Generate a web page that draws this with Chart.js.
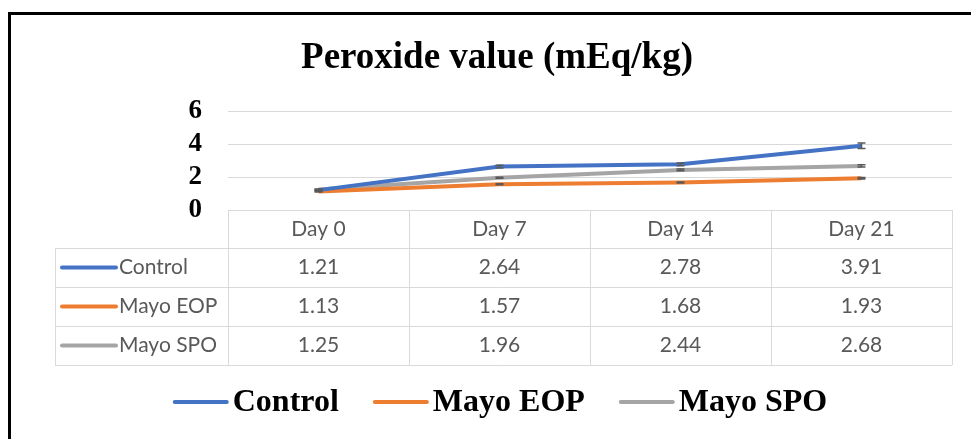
<!DOCTYPE html>
<html>
<head>
<meta charset="utf-8">
<script src="https://cdn.jsdelivr.net/npm/chart.js@4.4.0/dist/chart.umd.min.js"></script>
<style>
  html, body { margin: 0; padding: 0; background: #fff; }
  #frame { position: absolute; left: 8px; top: 12px; width: 980px; height: 440px;
           border-left: 3px solid #000; border-top: 3px solid #000; }
  #wrap { position: absolute; left: 0; top: 0; width: 971px; height: 439px; }
</style>
</head>
<body>
<div id="frame"></div>
<div id="wrap"><canvas id="chart" width="971" height="439"></canvas></div>
<script>
// values
const days = ['Day 0', 'Day 7', 'Day 14', 'Day 21'];
const seriesNames = ['Control', 'Mayo EOP', 'Mayo SPO'];
const control = [1.21, 2.64, 2.78, 3.91];
const mayoEOP = [1.13, 1.57, 1.68, 1.93];
const mayoSPO = [1.25, 1.96, 2.44, 2.68];
const controlErr = [0.04, 0.08, 0.08, 0.16];
const mayoEOPErr = [0.03, 0.03, 0.03, 0.05];
const mayoSPOErr = [0.03, 0.03, 0.05, 0.07];
const yTicks = [0, 2, 4, 6];

const colors = ['#4472C4', '#ED7D31', '#A5A5A5'];
const serif = "'Liberation Serif', 'Times New Roman', serif";
const sans = "Lato, 'Noto Sans', sans-serif";

// small error caps at each point
const errorBars = {
  id: 'errorBars',
  afterDatasetsDraw(chart) {
    const { ctx, scales: { x, y } } = chart;
    ctx.save();
    ctx.strokeStyle = '#595959';
    ctx.lineWidth = 1.5;
    chart.data.datasets.forEach(ds => {
      ds.data.forEach((v, i) => {
        const e = ds.errors[i];
        const px = x.getPixelForValue(i);
        const top = y.getPixelForValue(v + e), bot = y.getPixelForValue(v - e);
        ctx.beginPath();
        ctx.moveTo(px, top); ctx.lineTo(px, bot);
        ctx.moveTo(px - 4, top); ctx.lineTo(px + 4, top);
        ctx.moveTo(px - 4, bot); ctx.lineTo(px + 4, bot);
        ctx.stroke();
      });
    });
    ctx.restore();
  }
};

// data table under the plot, plus legend at the bottom
const dataTable = {
  id: 'dataTable',
  afterDraw(chart) {
    const { ctx, chartArea: area, scales: { x } } = chart;
    const n = days.length;
    const colW = (area.right - area.left) / n;
    const labelLeft = 55;
    const headH = 38, rowH = 39;
    const top = area.bottom;
    const rowsTop = top + headH;
    const bottom = rowsTop + rowH * chart.data.datasets.length;

    ctx.save();
    ctx.strokeStyle = '#d9d9d9';
    ctx.lineWidth = 1;
    ctx.beginPath();
    ctx.moveTo(area.left, top + 0.5); ctx.lineTo(area.right, top + 0.5);
    for (let r = 0; r <= chart.data.datasets.length; r++) {
      const yy = Math.round(rowsTop + r * rowH) + 0.5;
      ctx.moveTo(labelLeft, yy); ctx.lineTo(area.right, yy);
    }
    ctx.moveTo(labelLeft + 0.5, rowsTop); ctx.lineTo(labelLeft + 0.5, bottom);
    for (let c = 0; c <= n; c++) {
      const xx = Math.round(area.left + c * colW) + 0.5;
      ctx.moveTo(xx, top); ctx.lineTo(xx, bottom);
    }
    ctx.stroke();

    ctx.fillStyle = '#595959';
    ctx.font = '21px ' + sans;
    ctx.textBaseline = 'middle';
    ctx.textAlign = 'center';
    days.forEach((d, i) => ctx.fillText(d, x.getPixelForValue(i), top + headH / 2));
    chart.data.datasets.forEach((ds, r) => {
      const cy = rowsTop + r * rowH + rowH / 2;
      ds.data.forEach((v, i) => ctx.fillText(v.toFixed(2), x.getPixelForValue(i), cy));
      ctx.strokeStyle = ds.borderColor;
      ctx.lineWidth = 4;
      ctx.lineCap = 'round';
      ctx.beginPath();
      ctx.moveTo(labelLeft + 7, cy); ctx.lineTo(labelLeft + 61, cy);
      ctx.stroke();
      ctx.textAlign = 'left';
      ctx.fillText(ds.label, labelLeft + 64, cy);
      ctx.textAlign = 'center';
    });

    // legend
    ctx.font = 'bold 32px ' + serif;
    ctx.textAlign = 'left';
    ctx.fillStyle = '#000';
    const lineW = 56, gapText = 4, gapItem = 34;
    const widths = chart.data.datasets.map(ds => lineW + gapText + ctx.measureText(ds.label).width);
    const total = widths.reduce((a, b) => a + b, 0) + gapItem * (widths.length - 1);
    let lx = 500 - total / 2;
    const ly = 402;
    chart.data.datasets.forEach((ds, i) => {
      ctx.strokeStyle = ds.borderColor;
      ctx.lineWidth = 4;
      ctx.lineCap = 'round';
      ctx.beginPath();
      ctx.moveTo(lx + 2, ly); ctx.lineTo(lx + lineW - 2, ly);
      ctx.stroke();
      ctx.fillText(ds.label, lx + lineW + gapText, ly + 1);
      lx += widths[i] + gapItem;
    });
    ctx.restore();
  }
};

const seriesValues = [control, mayoEOP, mayoSPO];
const seriesErrors = [controlErr, mayoEOPErr, mayoSPOErr];

new Chart(document.getElementById('chart'), {
  type: 'line',
  data: {
    labels: days,
    datasets: seriesNames.map((name, i) => ({
      label: name,
      data: seriesValues[i],
      errors: seriesErrors[i],
      borderColor: colors[i],
      backgroundColor: colors[i],
      borderWidth: 4,
      pointRadius: 0,
      tension: 0
    }))
  },
  options: {
    responsive: false,
    animation: false,
    layout: { padding: { left: 42, right: 19, top: 0, bottom: 229 } },
    plugins: {
      legend: { display: false },
      tooltip: { enabled: false },
      title: {
        display: true,
        text: 'Peroxide value (mEq/kg)',
        color: '#000',
        font: { family: serif, size: 37, weight: 'bold' },
        padding: { top: 36, bottom: 31 }
      }
    },
    scales: {
      x: { display: false, offset: true },
      y: {
        min: 0, max: 6,
        afterFit(scale) { scale.width = 186; },
        afterBuildTicks(scale) { scale.ticks = yTicks.map(v => ({ value: v })); },
        border: { display: false },
        grid: { color: '#d9d9d9', drawTicks: false },
        ticks: {
          autoSkip: false,
          color: '#000',
          padding: 26,
          font: { family: serif, size: 27, weight: 'bold' }
        }
      }
    }
  },
  plugins: [errorBars, dataTable]
});
</script>
</body>
</html>
